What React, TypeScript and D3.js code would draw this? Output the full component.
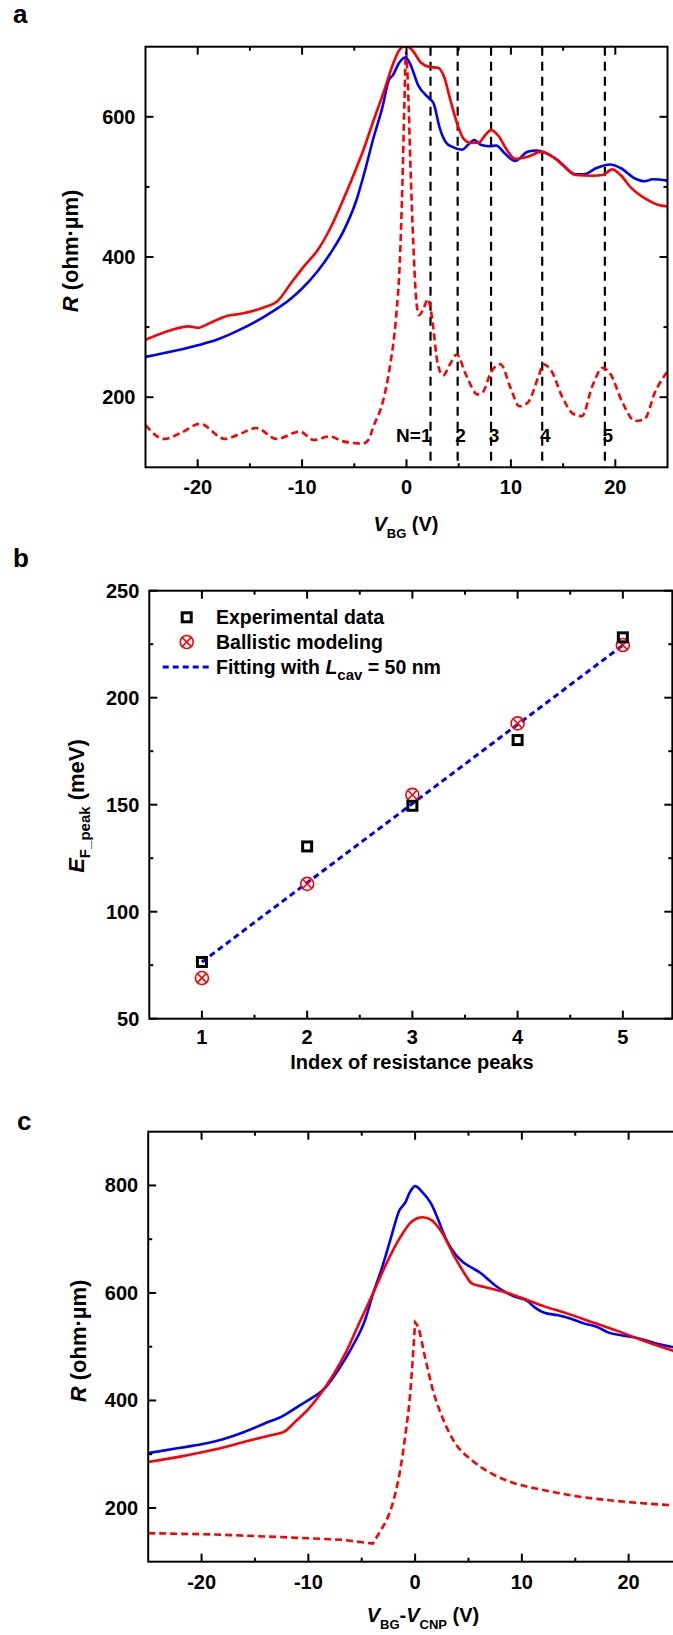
import React from "react";
import * as d3 from "d3";

const FONT = "'Liberation Sans', Arial, Helvetica, sans-serif";
const RED = "#ff0000";
const BLUE = "#0000ff";

// ---------- Panel a data ----------
const aBlueV = [-25, -20, -18, -16, -13.5, -11, -10, -8.5, -7.3, -6, -4.8, -4, -3.2, -2.3, -1.7, -1.3, -0.7, -0.1, 0.3, 1.15, 2.2, 2.6, 3.2, 3.8, 4.4, 5.3, 5.9, 6.5, 7.1, 7.9, 8.6, 9.4, 10.4, 11.6, 12.5, 13.3, 14.5, 16.2, 17, 18.2, 19.5, 20.5, 21.9, 22.8, 23.6, 25];
const aBlueR = [257.5, 274, 283, 296, 316, 341.5, 355, 380, 405, 438, 481, 522, 568, 614, 652, 659.5, 677, 685, 677, 644, 626, 619, 583, 563, 557, 553, 560, 567, 560, 558, 559, 548, 537, 550, 552, 548.6, 538, 518, 518, 527, 532, 527, 512, 508, 511, 509];

const aRedV = [-25, -22.5, -20.9, -20, -18.8, -17.2, -15.9, -13.5, -12.4, -11, -9.8, -8.5, -7.3, -6, -4.8, -4, -3.2, -2.1, -1.3, -0.7, -0.1, 0.5, 1.4, 2.2, 3, 3.6, 4.2, 4.9, 5.5, 6.1, 6.9, 7.5, 8.1, 8.8, 9.6, 10.4, 11.6, 12.9, 14.1, 14.9, 16.2, 17.8, 18.8, 19.7, 20.5, 21.5, 22.8, 24, 25];
const aRedR = [282, 296, 301, 299, 306, 316, 319, 329, 336.5, 364, 387, 410, 441, 484, 527, 558, 593, 639, 675, 695, 701, 696, 677, 671, 670, 657, 624, 588, 568, 563, 563, 573, 581, 573, 553, 540, 543, 550, 542, 532, 517, 516, 517, 525, 517, 499, 484, 475, 472];

// modelled curve: left flat part (to the minimum before the rise) and the rest
const aModelLeftV = [-25, -23.2, -21.5, -19.8, -17.4, -15.9, -14.4, -12.45, -10.2, -8.9, -7.35, -6.07, -4.15];
const aModelLeftR = [160, 140.5, 150, 162, 140.5, 148, 156, 140.5, 151, 139, 144, 137, 133.5];
const aModelRightV = [-4.15, -3.6, -3.2, -2.24, -1.6, -1.0, -0.65, -0.4, -0.2, -0.05, 0.15, 0.4, 0.65, 0.9, 1.2, 1.6, 2.05, 2.4, 3.0, 3.5, 4.2, 4.8, 5.7, 6.8, 7.3, 8.1, 9.0, 10, 10.8, 11.6, 12.7, 13.1, 13.9, 14.9, 16, 16.8, 17.8, 18.8, 19.5, 20.7, 21.9, 22.8, 23.8, 25];
const aModelRightR = [133.5, 140, 157, 195, 243, 314, 390, 500, 620, 692, 640, 520, 420, 345, 317, 325, 340, 318, 247, 231, 248, 261, 232, 204, 207, 236, 247, 212, 187, 192, 232, 247, 237, 201, 176, 173, 216, 242, 234, 192, 166, 168.7, 207, 237];

const aPeakV = [2.3, 4.9, 8.1, 13.0, 19.0];
const aPeakLabels = ["N=1", "2", "3", "4", "5"];

const aXTicks = [-20, -10, 0, 10, 20];
const aXMinor = [-15, -5, 5, 15];
const aYTicks = [200, 400, 600];
const aYMinor = [300, 500];

// ---------- Panel b data ----------
const bIndex = [1, 2, 3, 4, 5];
const bExperimental = [76.5, 130.5, 149.5, 180.2, 228.2];
const bBallistic = [69, 113, 154.6, 188, 224.6];
const bFit = [76.5, 113.5, 150.5, 187.5, 224.5];
const bXTicks = [1, 2, 3, 4, 5];
const bXMinor = [1.5, 2.5, 3.5, 4.5];
const bYTicks = [50, 100, 150, 200, 250];
const bYMinor = [75, 125, 175, 225];

// ---------- Panel c data ----------
const cBlueV = [-25, -22, -20, -18, -16, -14, -12.4, -10.8, -10, -8.4, -7.2, -6, -4.7, -3.9, -3.1, -2.3, -1.5, -0.9, -0.5, 0, 0.7, 1.5, 2.1, 2.9, 3.7, 4.5, 5.3, 6.1, 6.9, 7.7, 8.5, 9.3, 10.5, 11.3, 12.1, 13.4, 14.6, 15.8, 17, 18.2, 19.4, 20.6, 21.8, 23, 24.1, 25];
const cBlueR = [302, 312, 318.4, 328, 341.4, 358, 371, 391, 400.7, 424, 456.6, 496, 549, 601, 647, 700, 752.6, 769, 787, 798.7, 787, 766, 739.5, 700, 673.7, 657, 647, 637.5, 624, 611, 601, 593.4, 585, 571.7, 563, 558.6, 552, 543.4, 537, 525.7, 521, 517, 510.5, 504, 499.3, 497];

const cRedV = [-25, -22, -18.8, -15.6, -13.6, -12.3, -11.2, -10, -8.8, -7.6, -6.4, -5.2, -3.9, -2.7, -1.5, -0.3, 0.7, 1.5, 2.5, 3.7, 4.7, 5.3, 6.5, 8.5, 10.5, 12.1, 14.2, 16.6, 19, 21.4, 24.1, 25];
const cRedR = [285.5, 295.5, 308.6, 325, 335, 341.4, 361, 384, 414, 450, 493, 545.4, 601, 654, 700, 733, 740.8, 736, 713, 667, 634, 617.8, 611, 601, 587, 575, 562, 545.4, 529, 511, 492.8, 487];

const cModelLeftV = [-25, -18.8, -12.8, -6.8, -3.96];
const cModelLeftR = [153, 150.7, 146, 140.8, 133.7];
const cModelRiseV = [-3.96, -3.03, -2.7, -1.78, -1.5, -0.9, -0.5, -0.2, 0];
const cModelRiseR = [133.7, 164.6, 176, 233, 259, 338, 404, 483, 545.4];
const cModelDecayV = [0, 0.3, 0.9, 1.7, 2.5, 3.7, 5.3, 7.3, 9.3, 12.1, 15.4, 19.4, 24.1, 25];
const cModelDecayR = [545.4, 535.5, 483, 417, 371, 322, 289, 262.5, 246, 233, 221, 212, 205, 204];

const cXTicks = [-20, -10, 0, 10, 20];
const cXMinor = [-15, -5, 5, 15, 25];
const cYTicks = [200, 400, 600, 800];
const cYMinor = [300, 500, 700];

type Box = { x0: number; x1: number; y0: number; y1: number };

function zip(a: number[], b: number[]): [number, number][] {
  return a.map((v, i) => [v, b[i]] as [number, number]);
}

function Frame(props: {
  box: Box;
  xs: d3.ScaleLinear<number, number>;
  ys: d3.ScaleLinear<number, number>;
  xMajor: number[];
  xMinor: number[];
  yMajor: number[];
  yMinor: number[];
  labelDy: number;
}) {
  const { box, xs, ys, xMajor, xMinor, yMajor, yMinor, labelDy } = props;
  const M = 8;
  const m = 4;
  const items: React.ReactNode[] = [];
  xMajor.forEach((t, i) => {
    const x = xs(t);
    items.push(<line key={"xb" + i} x1={x} x2={x} y1={box.y1} y2={box.y1 - M} />);
    items.push(<line key={"xt" + i} x1={x} x2={x} y1={box.y0} y2={box.y0 + M} />);
  });
  xMinor.forEach((t, i) => {
    const x = xs(t);
    items.push(<line key={"xbm" + i} x1={x} x2={x} y1={box.y1} y2={box.y1 - m} />);
    items.push(<line key={"xtm" + i} x1={x} x2={x} y1={box.y0} y2={box.y0 + m} />);
  });
  yMajor.forEach((t, i) => {
    const y = ys(t);
    items.push(<line key={"yl" + i} x1={box.x0} x2={box.x0 + M} y1={y} y2={y} />);
    items.push(<line key={"yr" + i} x1={box.x1} x2={box.x1 - M} y1={y} y2={y} />);
  });
  yMinor.forEach((t, i) => {
    const y = ys(t);
    items.push(<line key={"ylm" + i} x1={box.x0} x2={box.x0 + m} y1={y} y2={y} />);
    items.push(<line key={"yrm" + i} x1={box.x1} x2={box.x1 - m} y1={y} y2={y} />);
  });
  return (
    <g>
      <g stroke="#000" strokeWidth={2}>{items}</g>
      <rect x={box.x0} y={box.y0} width={box.x1 - box.x0} height={box.y1 - box.y0} fill="none" stroke="#000" strokeWidth={2} />
      <g fontFamily={FONT} fontWeight="bold" fontSize={20} fill="#000">
        {xMajor.map((t, i) => (
          <text key={"xl" + i} x={xs(t)} y={box.y1 + labelDy} textAnchor="middle">{String(t)}</text>
        ))}
        {yMajor.map((t, i) => (
          <text key={"yl" + i} x={box.x0 - 10} y={ys(t) + 7} textAnchor="end">{String(t)}</text>
        ))}
      </g>
    </g>
  );
}

export default function App() {
  // Panel a
  const aBox: Box = { x0: 145.5, x1: 667.5, y0: 46.7, y1: 467.3 };
  const axs = d3.scaleLinear().domain([-25, 25]).range([aBox.x0, aBox.x1]);
  const ays = d3.scaleLinear().domain([100, 700]).range([aBox.y1, aBox.y0]);
  const aLine = d3.line<[number, number]>().x((d) => axs(d[0])).y((d) => ays(d[1])).curve(d3.curveMonotoneX);

  // Panel b
  const bBox: Box = { x0: 149.3, x1: 672.3, y0: 590.7, y1: 1018.7 };
  const bxs = d3.scaleLinear().domain([0.5, 5.47]).range([bBox.x0, bBox.x1]);
  const bys = d3.scaleLinear().domain([50, 250]).range([bBox.y1, bBox.y0]);
  const bLine = d3.line<[number, number]>().x((d) => bxs(d[0])).y((d) => bys(d[1]));

  // Panel c
  const cBox: Box = { x0: 148.2, x1: 682, y0: 1131.7, y1: 1561.7 };
  const cxs = d3.scaleLinear().domain([-25, 25]).range([cBox.x0, cBox.x1]);
  const cys = d3.scaleLinear().domain([100, 900]).range([cBox.y1, cBox.y0]);
  const cLine = d3.line<[number, number]>().x((d) => cxs(d[0])).y((d) => cys(d[1])).curve(d3.curveMonotoneX);
  const cLineLin = d3.line<[number, number]>().x((d) => cxs(d[0])).y((d) => cys(d[1]));

  // model curves assembled from their pieces (sharp corners kept between pieces)
  const aModelPath = (aLine(zip(aModelLeftV, aModelLeftR)) || "") + (aLine(zip(aModelRightV, aModelRightR)) || "").replace(/^M/, "L");
  const cModelPath =
    (cLineLin(zip(cModelLeftV, cModelLeftR)) || "") +
    (cLine(zip(cModelRiseV, cModelRiseR)) || "").replace(/^M/, "L") +
    (cLine(zip(cModelDecayV, cModelDecayR)) || "").replace(/^M/, "L");

  const sq = 9;
  const lx = 186.7;

  return (
    <svg
      width={673}
      height={1635}
      viewBox="0 0 673 1635"
      style={{ position: "absolute", left: 0, top: 0, display: "block", background: "#fff" }}
    >
      <defs>
        <clipPath id="clipA">
          <rect x={aBox.x0} y={aBox.y0} width={aBox.x1 - aBox.x0} height={aBox.y1 - aBox.y0} />
        </clipPath>
        <clipPath id="clipC">
          <rect x={cBox.x0} y={cBox.y0} width={cBox.x1 - cBox.x0} height={cBox.y1 - cBox.y0} />
        </clipPath>
      </defs>
      <rect x={0} y={0} width={673} height={1635} fill="#fff" />

      {/* ---------------- Panel a ---------------- */}
      <text x={13} y={23} fontFamily={FONT} fontWeight="bold" fontSize={26}>a</text>
      <g clipPath="url(#clipA)">
        {aPeakV.map((v, i) => (
          <line key={"pk" + i} x1={axs(v)} x2={axs(v)} y1={aBox.y0} y2={aBox.y1} stroke="#000" strokeWidth={2.2} strokeDasharray="9,6" />
        ))}
        <path d={aModelPath} fill="none" stroke={RED} strokeWidth={2.6} strokeDasharray="7,4" />
        <path d={aLine(zip(aBlueV, aBlueR)) || ""} fill="none" stroke={BLUE} strokeWidth={2.6} />
        <path d={aLine(zip(aRedV, aRedR)) || ""} fill="none" stroke={RED} strokeWidth={2.6} />
      </g>
      <g fontFamily={FONT} fontWeight="bold" fontSize={19}>
        {aPeakLabels.map((s, i) => (
          <text key={"pl" + i} x={i === 0 ? axs(aPeakV[i]) + 1 : axs(aPeakV[i]) + 3} y={442} textAnchor={i === 0 ? "end" : "middle"}>{s}</text>
        ))}
      </g>
      <Frame box={aBox} xs={axs} ys={ays} xMajor={aXTicks} xMinor={aXMinor} yMajor={aYTicks} yMinor={aYMinor} labelDy={27} />
      <text transform="translate(78,251) rotate(-90)" textAnchor="middle" fontFamily={FONT} fontWeight="bold" fontSize={22}>
        <tspan fontStyle="italic">R</tspan> (ohm·µm)
      </text>
      <text x={406} y={531} textAnchor="middle" fontFamily={FONT} fontWeight="bold" fontSize={20}>
        <tspan fontStyle="italic">V</tspan>
        <tspan fontSize={13} dy={7}>BG</tspan>
        <tspan dy={-7}> (V)</tspan>
      </text>

      {/* ---------------- Panel b ---------------- */}
      <text x={13} y={567} fontFamily={FONT} fontWeight="bold" fontSize={26}>b</text>
      <path d={bLine(zip(bIndex, bFit)) || ""} fill="none" stroke={BLUE} strokeWidth={3} strokeDasharray="6,4" />
      {bIndex.map((n, i) => (
        <g key={"bb" + i}>
          <circle cx={bxs(n)} cy={bys(bBallistic[i])} r={6.5} fill="none" stroke={RED} strokeWidth={1.6} />
          <line x1={bxs(n) - 4.6} x2={bxs(n) + 4.6} y1={bys(bBallistic[i]) - 4.6} y2={bys(bBallistic[i]) + 4.6} stroke={RED} strokeWidth={1.6} />
          <line x1={bxs(n) - 4.6} x2={bxs(n) + 4.6} y1={bys(bBallistic[i]) + 4.6} y2={bys(bBallistic[i]) - 4.6} stroke={RED} strokeWidth={1.6} />
        </g>
      ))}
      {bIndex.map((n, i) => (
        <rect key={"be" + i} x={bxs(n) - sq / 2} y={bys(bExperimental[i]) - sq / 2} width={sq} height={sq} fill="none" stroke="#000" strokeWidth={3} />
      ))}
      <Frame box={bBox} xs={bxs} ys={bys} xMajor={bXTicks} xMinor={bXMinor} yMajor={bYTicks} yMinor={bYMinor} labelDy={25} />
      {/* legend */}
      <rect x={lx - sq / 2} y={617.3 - sq / 2} width={sq} height={sq} fill="none" stroke="#000" strokeWidth={3} />
      <circle cx={lx} cy={642} r={6.5} fill="none" stroke={RED} strokeWidth={1.6} />
      <line x1={lx - 4.6} x2={lx + 4.6} y1={642 - 4.6} y2={642 + 4.6} stroke={RED} strokeWidth={1.6} />
      <line x1={lx - 4.6} x2={lx + 4.6} y1={642 + 4.6} y2={642 - 4.6} stroke={RED} strokeWidth={1.6} />
      <line x1={162.7} x2={210} y1={667} y2={667} stroke={BLUE} strokeWidth={3} strokeDasharray="6,4" />
      <g fontFamily={FONT} fontWeight="bold" fontSize={19.5}>
        <text x={216} y={624}>Experimental data</text>
        <text x={216} y={649}>Ballistic modeling</text>
        <text x={216} y={674}>
          Fitting with <tspan fontStyle="italic">L</tspan>
          <tspan fontSize={15} dy={6}>cav</tspan>
          <tspan dy={-6}> = 50 nm</tspan>
        </text>
      </g>
      <text transform="translate(84,806) rotate(-90)" textAnchor="middle" fontFamily={FONT} fontWeight="bold" fontSize={22}>
        <tspan fontStyle="italic">E</tspan>
        <tspan fontSize={15} dy={6}>F_peak</tspan>
        <tspan dy={-6}> (meV)</tspan>
      </text>
      <text x={412} y={1069} textAnchor="middle" fontFamily={FONT} fontWeight="bold" fontSize={20}>Index of resistance peaks</text>

      {/* ---------------- Panel c ---------------- */}
      <text x={17} y={1129.5} fontFamily={FONT} fontWeight="bold" fontSize={26}>c</text>
      <g clipPath="url(#clipC)">
        <path d={cModelPath} fill="none" stroke={RED} strokeWidth={2.6} strokeDasharray="7,4" />
        <path d={cLine(zip(cBlueV, cBlueR)) || ""} fill="none" stroke={BLUE} strokeWidth={2.6} />
        <path d={cLine(zip(cRedV, cRedR)) || ""} fill="none" stroke={RED} strokeWidth={2.6} />
      </g>
      <Frame box={cBox} xs={cxs} ys={cys} xMajor={cXTicks} xMinor={cXMinor} yMajor={cYTicks} yMinor={cYMinor} labelDy={27} />
      <text transform="translate(86,1341) rotate(-90)" textAnchor="middle" fontFamily={FONT} fontWeight="bold" fontSize={22}>
        <tspan fontStyle="italic">R</tspan> (ohm·µm)
      </text>
      <text x={423} y={1622} textAnchor="middle" fontFamily={FONT} fontWeight="bold" fontSize={20}>
        <tspan fontStyle="italic">V</tspan>
        <tspan fontSize={13} dy={7}>BG</tspan>
        <tspan dy={-7}>-</tspan>
        <tspan fontStyle="italic">V</tspan>
        <tspan fontSize={13} dy={7}>CNP</tspan>
        <tspan dy={-7}> (V)</tspan>
      </text>
    </svg>
  );
}
